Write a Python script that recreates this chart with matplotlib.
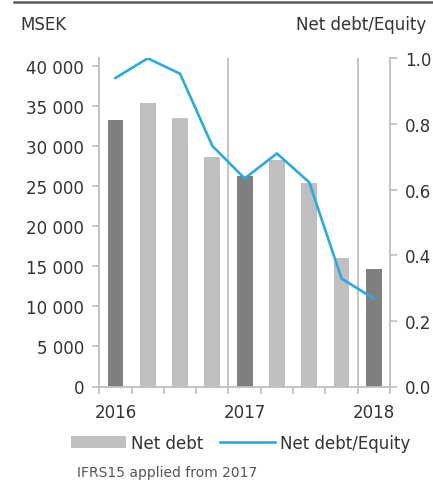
import matplotlib
matplotlib.use("Agg")
import matplotlib.pyplot as plt
from matplotlib.lines import Line2D
from matplotlib.patches import Patch

# quarterly values, 2016 Q1 .. 2018 Q1
net_debt = [33300, 35450, 33500, 28650, 26300, 28300, 25400, 16000, 14700]
ratio = [0.94, 1.00, 0.953, 0.733, 0.634, 0.710, 0.622, 0.329, 0.268]
year_labels = ["2016", "2017", "2018"]
year_pos = [0, 4, 8]
dark_idx = [0, 4, 8]

grey = "#bfbfbf"
dark = "#7f7f7f"
blue = "#29abe2"
txt = "#333333"

plt.rcParams['font.family'] = ['DejaVu Sans']

fig = plt.figure(figsize=(4.33, 4.81), dpi=100)
ax = fig.add_axes([99.3 / 433, 93.5 / 481, (390 - 99.3) / 433, (387.5 - 59.3) / 481])
ax2 = ax.twinx()

x = list(range(len(net_debt)))
colors = [dark if i in dark_idx else grey for i in x]
ax.bar(x, net_debt, width=0.49, color=colors, zorder=2)
for xv in (3.5, 7.5):
    ax.axvline(xv, color=grey, lw=1.3, zorder=1)

ax.set_xlim(-0.5, 8.5)
ax.set_ylim(0, 41000)
ax.set_yticks(range(0, 40001, 5000))
ax.set_yticklabels([f"{v:,}".replace(",", " ") for v in range(0, 40001, 5000)])
ax.set_xticks(year_pos)
ax.set_xticklabels(year_labels)
ax.set_xticks([i - 0.5 for i in range(10)], minor=True)

ax2.plot(x, ratio, color=blue, lw=1.9, zorder=3)
ax2.set_ylim(0, 1.0)
ax2.set_yticks([0, 0.2, 0.4, 0.6, 0.8, 1.0])
ax2.set_yticklabels(["0.0", "0.2", "0.4", "0.6", "0.8", "1.0"])

for a in (ax, ax2):
    for s in a.spines.values():
        s.set_color(grey)
        s.set_linewidth(1.3)
    a.spines['top'].set_visible(False)
ax.spines['right'].set_visible(False)
ax2.spines['left'].set_visible(False)
ax2.spines['bottom'].set_visible(False)

ax.tick_params(axis='y', length=5, width=1.2, color=grey, labelsize=12, labelcolor=txt, pad=6)
ax.tick_params(axis='x', which='major', length=0, labelsize=12, labelcolor=txt, pad=12)
ax.tick_params(axis='x', which='minor', length=5, width=1.2, color=grey)
ax2.tick_params(axis='y', length=5, width=1.2, color=grey, labelsize=12, labelcolor=txt, pad=6)

fig.text(20 / 433, 1 - 25 / 481, "MSEK", fontsize=12, color=txt, va='center', ha='left')
fig.text(426 / 433, 1 - 25 / 481, "Net debt/Equity", fontsize=12, color=txt, va='center', ha='right')
fig.add_artist(Line2D([14 / 433, 1], [1 - 3 / 481, 1 - 3 / 481], color="#595959", lw=1.8))

handles = [Patch(facecolor=grey, edgecolor='none'), Line2D([0], [0], color=blue, lw=1.9)]
fig.legend(handles, ["Net debt", "Net debt/Equity"], loc='center', bbox_to_anchor=(241 / 433, 1 - 444 / 481),
           ncol=2, frameon=False, fontsize=12, handlelength=3.3, handleheight=0.7, handletextpad=0.3,
           columnspacing=1.0, labelcolor=txt, borderaxespad=0, borderpad=0)

fig.text(77 / 433, 1 - 473 / 481, "IFRS15 applied from 2017", fontsize=10, color="#555555", va='center', ha='left')

fig.savefig("out.png", dpi=100)
